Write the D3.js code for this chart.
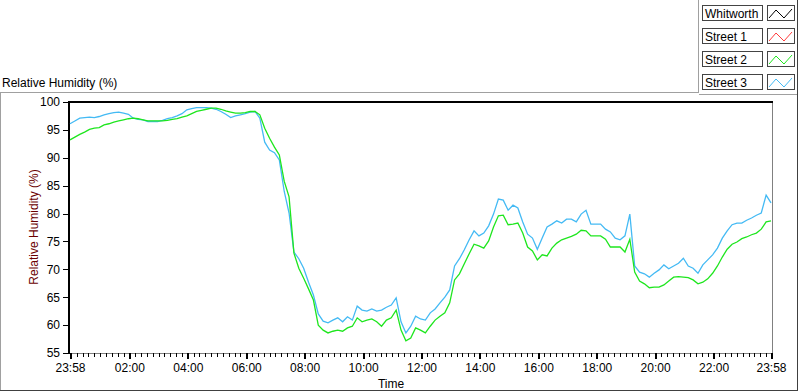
<!DOCTYPE html>
<html>
<head>
<meta charset="utf-8">
<script src="https://cdn.jsdelivr.net/npm/d3@7"></script>
<style>
  body { margin: 0; background: #fff; }
  svg { display: block; font-family: "Liberation Sans", Arial, sans-serif; }
</style>
</head>
<body>
<svg id="chart" width="800" height="392"></svg>
<script>
// samples every 10 minutes starting at 23:58
const startTime = '2020-01-01 23:58';
const stepMinutes = 10;

const street2 = [
  93.2, 93.7, 94.2, 94.6, 95.1, 95.3, 95.4, 95.9, 96.1, 96.4, 96.6, 96.8, 97.0,
  97.1, 97.0, 96.8, 96.6, 96.6, 96.6, 96.6, 96.7, 96.9, 97.0, 97.3, 97.5, 97.9,
  98.3, 98.5, 98.7, 98.9, 98.9, 98.7, 98.4, 98.2, 98.0, 98.0, 98.1, 98.3, 98.3,
  97.7, 95.3, 93.5, 91.9, 90.5, 85.8, 83.0, 72.9, 70.2, 68.4, 66.5, 64.5, 60.0,
  59.1, 58.6, 58.9, 59.1, 58.9, 59.5, 59.8, 61.3, 60.6, 60.9, 61.1, 60.6, 59.8,
  60.9, 61.3, 62.7, 59.1, 57.2, 57.7, 59.5, 59.1, 58.6, 59.8, 60.9, 61.6, 62.2,
  64.0, 68.1, 69.2, 71.0, 72.8, 74.5, 74.2, 73.8, 75.1, 77.6, 79.6, 79.7, 78.0,
  78.1, 78.3, 76.5, 74.0, 73.3, 71.7, 72.6, 72.4, 73.8, 74.7, 75.3, 75.6, 75.9,
  76.3, 77.0, 76.9, 76.0, 76.0, 76.0, 75.4, 74.0, 74.0, 74.0, 73.1, 75.4, 69.5,
  67.9, 67.4, 66.7, 66.8, 66.8, 67.2, 67.9, 68.6, 68.7, 68.6, 68.5, 68.1, 67.4,
  67.7, 68.3, 69.3, 70.6, 72.2, 73.6, 74.5, 74.9, 75.5, 75.8, 76.2, 76.5, 77.2,
  78.5, 78.7
];

const street3 = [
  96.1, 96.6, 97.1, 97.2, 97.3, 97.2, 97.4, 97.7, 97.9, 98.1, 98.2, 98.0, 97.8,
  97.1, 96.9, 96.8, 96.5, 96.5, 96.5, 96.7, 97.0, 97.2, 97.5, 97.9, 98.6, 98.8,
  99.0, 99.0, 99.0, 98.9, 98.7, 98.3, 97.8, 97.2, 97.5, 97.7, 97.9, 98.2, 98.3,
  97.1, 92.8, 91.4, 90.9, 89.6, 84.0, 80.1, 73.1, 71.9, 70.2, 67.7, 65.4, 62.0,
  60.7, 60.4, 60.9, 61.3, 60.6, 61.5, 60.9, 63.4, 62.7, 62.5, 62.9, 62.5, 62.7,
  63.2, 63.6, 64.9, 60.6, 58.6, 59.8, 61.6, 61.1, 60.9, 62.2, 62.9, 64.0, 65.0,
  66.3, 70.6, 71.9, 73.5, 75.3, 76.9, 76.0, 76.5, 77.8, 79.9, 82.6, 82.4, 80.6,
  81.5, 81.0, 78.5, 76.3, 75.6, 73.6, 75.6, 77.6, 78.1, 78.7, 78.3, 79.0, 79.0,
  78.5, 79.9, 80.6, 78.1, 78.1, 78.1, 77.2, 76.7, 75.6, 75.3, 76.0, 79.9, 70.6,
  69.5, 69.2, 68.6, 69.3, 69.9, 70.8, 70.1, 70.6, 71.1, 72.0, 70.6, 70.2, 69.3,
  70.8, 71.7, 72.6, 73.8, 75.6, 76.9, 78.0, 78.3, 78.3, 78.8, 79.2, 79.7, 80.1,
  83.3, 81.9
];

const yTicks = [55, 60, 65, 70, 75, 80, 85, 90, 95, 100];
const xTickLabels = ['23:58', '02:00', '04:00', '06:00', '08:00', '10:00', '12:00',
  '14:00', '16:00', '18:00', '20:00', '22:00', '23:58'];

const legendNames = ['Whitworth', 'Street 1', 'Street 2', 'Street 3'];
const legendColors = ['#000000', '#ff3c3c', '#1ee61e', '#44baf4'];

const svg = d3.select('#chart');

const parseFull = d3.timeParse('%Y-%m-%d %H:%M');
const t0 = parseFull(startTime);
const t1 = d3.timeDay.offset(t0, 1);
const timeAt = i => d3.timeMinute.offset(t0, i * stepMinutes);

const x = d3.scaleTime().domain([t0, t1]).range([70, 771]);
const y = d3.scaleLinear().domain([55, 100]).range([353, 102]);

// outer frame
const frame = svg.append('g').attr('fill', 'none').attr('shape-rendering', 'crispEdges');
frame.append('path').attr('d', 'M0.5,391 V92.5 H698.5 V0').attr('stroke', '#a0a0a0');
frame.append('path').attr('d', 'M0,390.5 H797.5 V0').attr('stroke', '#404040');
frame.append('path').attr('d', 'M698.5,94.5 H797').attr('stroke', '#a0a0a0');

svg.append('text')
  .attr('x', 2).attr('y', 87)
  .attr('font-size', 12)
  .attr('fill', '#000')
  .text('Relative Humidity (%)');

// legend
const legend = svg.append('g')
  .selectAll('g')
  .data(legendNames)
  .join('g')
  .attr('transform', (d, i) => `translate(0,${5 + i * 23})`);

legend.append('rect')
  .attr('x', 702.5).attr('y', 0.5).attr('width', 60).attr('height', 15)
  .attr('fill', '#fff').attr('stroke', '#444').attr('shape-rendering', 'crispEdges');

legend.append('text')
  .attr('x', 705).attr('y', 12.5)
  .attr('font-size', 12)
  .attr('fill', '#000')
  .text(d => d);

legend.append('rect')
  .attr('x', 767.5).attr('y', 0.5).attr('width', 27).attr('height', 15)
  .attr('fill', '#fff').attr('stroke', '#444').attr('shape-rendering', 'crispEdges');

legend.append('polyline')
  .attr('points', '769,13 776,5 784,13 792,4')
  .attr('fill', 'none')
  .attr('stroke', (d, i) => legendColors[i]);

// plot area borders
const plot = svg.append('g').attr('shape-rendering', 'crispEdges');
plot.append('line').attr('x1', 68).attr('x2', 772).attr('y1', 353.5).attr('y2', 353.5).attr('stroke', '#808080');
plot.append('line').attr('x1', 772.5).attr('x2', 772.5).attr('y1', 101).attr('y2', 354).attr('stroke', '#808080');
plot.append('line').attr('x1', 68).attr('x2', 773).attr('y1', 102).attr('y2', 102).attr('stroke', '#000').attr('stroke-width', 2);
plot.append('line').attr('x1', 69).attr('x2', 69).attr('y1', 101).attr('y2', 354).attr('stroke', '#000').attr('stroke-width', 2);

// y axis
const yAxis = svg.append('g')
  .attr('transform', 'translate(68,0)')
  .call(d3.axisLeft(y).tickValues(yTicks).tickSize(5).tickPadding(3).tickFormat(d3.format('d')));
yAxis.select('.domain').remove();
yAxis.selectAll('text').attr('font-size', 12).attr('font-family', '"Liberation Sans", Arial, sans-serif').attr('fill', '#000');
yAxis.selectAll('line').attr('shape-rendering', 'crispEdges');

svg.append('text')
  .attr('transform', 'translate(38,227) rotate(-90)')
  .attr('text-anchor', 'middle')
  .attr('font-size', 12)
  .attr('fill', '#6a0000')
  .text('Relative Humidity (%)');

// x axis
const parseHM = d3.timeParse('%H:%M');
const majorTimes = xTickLabels.map((s, i) => {
  const p = parseHM(s);
  const base = i === 0 ? t0 : t1;
  return new Date(base.getFullYear(), base.getMonth(), base.getDate(), p.getHours(), p.getMinutes());
});

const minorTimes = d3.timeMinute.every(12).range(t0, t1)
  .filter(t => d3.min(majorTimes, m => Math.abs(m - t)) > 3 * 60000);

const xMinor = svg.append('g')
  .attr('transform', 'translate(0,353)')
  .call(d3.axisBottom(x).tickValues(minorTimes).tickSize(4).tickFormat(''));
xMinor.select('.domain').remove();
xMinor.selectAll('line').attr('shape-rendering', 'crispEdges');

const xAxis = svg.append('g')
  .attr('transform', 'translate(0,353)')
  .call(d3.axisBottom(x).tickValues(majorTimes).tickSize(6).tickPadding(4)
    .tickFormat((d, i) => xTickLabels[i]));
xAxis.select('.domain').remove();
xAxis.selectAll('line').attr('stroke-width', 2).attr('shape-rendering', 'crispEdges');
xAxis.selectAll('text').attr('font-size', 12).attr('font-family', '"Liberation Sans", Arial, sans-serif').attr('fill', '#000');

svg.append('text')
  .attr('x', 391).attr('y', 388)
  .attr('text-anchor', 'middle')
  .attr('font-size', 12)
  .attr('fill', '#000')
  .text('Time');

// series
const line = d3.line()
  .x((d, i) => x(timeAt(i)))
  .y(d => y(d));

const series = [
  { values: street3, color: legendColors[3] },
  { values: street2, color: legendColors[2] }
];

svg.append('g')
  .attr('fill', 'none')
  .attr('stroke-width', 1.3)
  .selectAll('path')
  .data(series)
  .join('path')
  .attr('stroke', d => d.color)
  .attr('d', d => line(d.values));
</script>
</body>
</html>
